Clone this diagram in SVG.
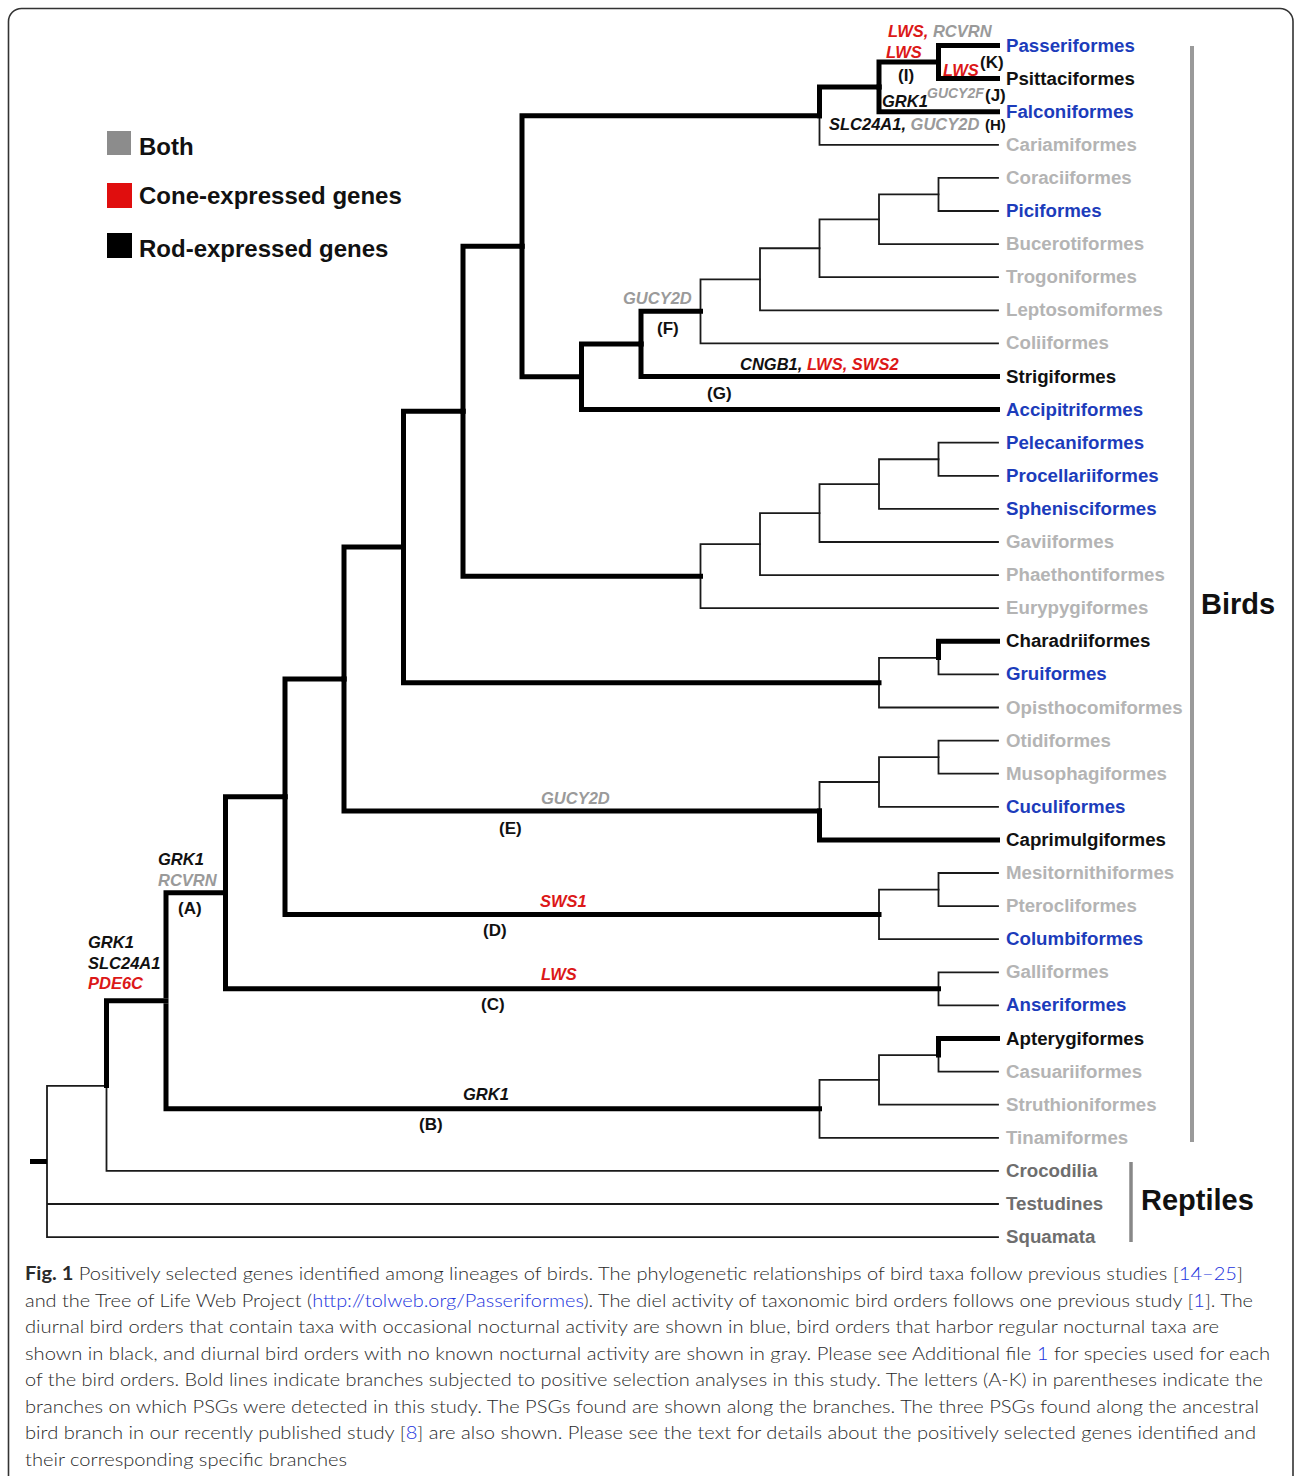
<svg xmlns="http://www.w3.org/2000/svg" width="1295" height="1476" viewBox="0 0 1295 1476">
<style>
.thin{fill:none;stroke:#1a1a1a;stroke-width:1.8;stroke-linecap:square;stroke-linejoin:miter}
.bold{fill:none;stroke:#000;stroke-width:5;stroke-linecap:butt;stroke-linejoin:miter}
.t{font-family:"Liberation Sans",Arial,sans-serif;font-weight:bold;font-size:18.7px}
.bl{fill:#1c3cbb}.bk{fill:#111}.gy{fill:#b4b4b4}.dg{fill:#6e6e6e}
.g{font-family:"Liberation Sans",Arial,sans-serif;font-weight:bold;font-style:italic;font-size:16.5px}
.red{fill:#dc1818}.gr{fill:#9a9a9a}.blk{fill:#111}
.lt{font-family:"Liberation Sans",Arial,sans-serif;font-weight:bold;font-size:17px;fill:#111}
.lg{font-family:"Liberation Sans",Arial,sans-serif;font-weight:bold;font-size:24px;fill:#111}
.big{font-family:"Liberation Sans",Arial,sans-serif;font-weight:bold;font-size:29px;fill:#111}
.cap{font-family:Lato,"Open Sans",sans-serif;font-size:18.5px;font-weight:300;fill:#2a2a2a}
.lnk{fill:#2233dd}
</style>
<rect x="8.5" y="8.5" width="1284.5" height="1520" rx="13" fill="#fff" stroke="#333" stroke-width="1.6"/>

<g id="legend">
<rect x="107" y="131" width="24" height="24" fill="#8c8c8c"/>
<text class="lg" x="139" y="155">Both</text>
<rect x="107" y="183" width="25" height="25" fill="#e00e0e"/>
<text class="lg" x="139" y="204">Cone-expressed genes</text>
<rect x="107" y="233" width="25" height="25" fill="#000"/>
<text class="lg" x="139" y="257">Rod-expressed genes</text>
</g>

<g id="connectors">
<g class="thin">
<path d="M47 1085.85V1237.1M47 1085.85H106.5M47 1204H998M47 1237.1H998"/>
<path d="M106.5 1085.85V1170.9H998"/>
<path d="M819.5 1108.85V1079.9H879M819.5 1108.85V1137.8H998"/>
<path d="M879 1079.9V1055.05H938.5M879 1079.9V1104.7H998"/>
<path d="M938.5 1055.05V1071.6H998"/>
<path d="M938.5 988.85V972.3H998M938.5 988.85V1005.4H998"/>
<path d="M879 914.4V889.55H938.5M879 914.4V939.2H998"/>
<path d="M938.5 889.55V873H998M938.5 889.55V906.1H998"/>
<path d="M819.5 810.95V782H879"/>
<path d="M879 782V757.15H938.5M879 782V806.8H998"/>
<path d="M938.5 757.15V740.6H998M938.5 757.15V773.7H998"/>
<path d="M879 682.7V657.85H938.5M879 682.7V707.5H998"/>
<path d="M938.5 657.85V674.4H998"/>
<path d="M700.5 576.15V544.1H760M700.5 576.15V608.2H998"/>
<path d="M760 544.1V513.05H819.5M760 544.1V575.1H998"/>
<path d="M819.5 513.05V484.1H879M819.5 513.05V542H998"/>
<path d="M879 484.1V459.25H938.5M879 484.1V508.9H998"/>
<path d="M938.5 459.25V442.7H998M938.5 459.25V475.8H998"/>
<path d="M819.5 115.85V144.8H998"/>
<path d="M700.5 311.35V279.3H760M700.5 311.35V343.4H998"/>
<path d="M760 279.3V248.25H819.5M760 279.3V310.3H998"/>
<path d="M819.5 248.25V219.3H879M819.5 248.25V277.2H998"/>
<path d="M879 219.3V194.45H938.5M879 219.3V244.1H998"/>
<path d="M938.5 194.45V177.9H998M938.5 194.45V211H998"/>
</g>
<g class="bold">
<path d="M30 1161.5H47"/>
<path d="M106.5 1088V1000.8H168.5"/>
<path d="M166 998.3V892.8H228"/>
<path d="M166 1003.3V1108.85H822"/>
<path d="M225.5 895.3V796.7H287.5"/>
<path d="M225.5 890.3V988.85H941"/>
<path d="M285 799.2V678.95H346.5"/>
<path d="M285 794.2V914.4H881.5"/>
<path d="M344 681.45V546.95H406"/>
<path d="M344 676.45V810.95H822"/>
<path d="M819.5 808.45V839.9H1000"/>
<path d="M403.5 549.45V411.2H465.5"/>
<path d="M403.5 544.45V682.7H881.5"/>
<path d="M938.5 660V641.3H1000"/>
<path d="M463 413.7V246.3H524.5"/>
<path d="M463 408.7V576.15H703"/>
<path d="M522 248.8V115.85H822"/>
<path d="M522 243.8V376.75H584"/>
<path d="M819.5 118.35V86.9H881.5"/>
<path d="M879 89.4V62.05H941"/>
<path d="M879 84.4V111.7H1000"/>
<path d="M938.5 64.55V45.5H1000"/>
<path d="M938.5 59.55V78.6H1000"/>
<path d="M581.5 379.25V343.9H643.5"/>
<path d="M581.5 374.25V409.6H1000"/>
<path d="M641 346.4V311.35H703"/>
<path d="M641 341.4V376.5H1000"/>
<path d="M938.5 1057.5V1038.5H1000"/>
</g>
</g>

<g id="leaves">
<g id="n-passeriformes"><text class="t bl" x="1006" y="51.5">Passeriformes</text></g>
<g id="n-psittaciformes"><text class="t bk" x="1006" y="84.6">Psittaciformes</text></g>
<g id="n-falconiformes"><text class="t bl" x="1006" y="117.7">Falconiformes</text></g>
<g id="n-cariamiformes"><text class="t gy" x="1006" y="150.8">Cariamiformes</text></g>
<g id="n-coraciiformes"><text class="t gy" x="1006" y="183.9">Coraciiformes</text></g>
<g id="n-piciformes"><text class="t bl" x="1006" y="217">Piciformes</text></g>
<g id="n-bucerotiformes"><text class="t gy" x="1006" y="250.1">Bucerotiformes</text></g>
<g id="n-trogoniformes"><text class="t gy" x="1006" y="283.2">Trogoniformes</text></g>
<g id="n-leptosomiformes"><text class="t gy" x="1006" y="316.3">Leptosomiformes</text></g>
<g id="n-coliiformes"><text class="t gy" x="1006" y="349.4">Coliiformes</text></g>
<g id="n-strigiformes"><text class="t bk" x="1006" y="382.5">Strigiformes</text></g>
<g id="n-accipitriformes"><text class="t bl" x="1006" y="415.6">Accipitriformes</text></g>
<g id="n-pelecaniformes"><text class="t bl" x="1006" y="448.7">Pelecaniformes</text></g>
<g id="n-procellariiformes"><text class="t bl" x="1006" y="481.8">Procellariiformes</text></g>
<g id="n-sphenisciformes"><text class="t bl" x="1006" y="514.9">Sphenisciformes</text></g>
<g id="n-gaviiformes"><text class="t gy" x="1006" y="548">Gaviiformes</text></g>
<g id="n-phaethontiformes"><text class="t gy" x="1006" y="581.1">Phaethontiformes</text></g>
<g id="n-eurypygiformes"><text class="t gy" x="1006" y="614.2">Eurypygiformes</text></g>
<g id="n-charadriiformes"><text class="t bk" x="1006" y="647.3">Charadriiformes</text></g>
<g id="n-gruiformes"><text class="t bl" x="1006" y="680.4">Gruiformes</text></g>
<g id="n-opisthocomiformes"><text class="t gy" x="1006" y="713.5">Opisthocomiformes</text></g>
<g id="n-otidiformes"><text class="t gy" x="1006" y="746.6">Otidiformes</text></g>
<g id="n-musophagiformes"><text class="t gy" x="1006" y="779.7">Musophagiformes</text></g>
<g id="n-cuculiformes"><text class="t bl" x="1006" y="812.8">Cuculiformes</text></g>
<g id="n-caprimulgiformes"><text class="t bk" x="1006" y="845.9">Caprimulgiformes</text></g>
<g id="n-mesitornithiformes"><text class="t gy" x="1006" y="879">Mesitornithiformes</text></g>
<g id="n-pterocliformes"><text class="t gy" x="1006" y="912.1">Pterocliformes</text></g>
<g id="n-columbiformes"><text class="t bl" x="1006" y="945.2">Columbiformes</text></g>
<g id="n-galliformes"><text class="t gy" x="1006" y="978.3">Galliformes</text></g>
<g id="n-anseriformes"><text class="t bl" x="1006" y="1011.4">Anseriformes</text></g>
<g id="n-apterygiformes"><text class="t bk" x="1006" y="1044.5">Apterygiformes</text></g>
<g id="n-casuariiformes"><text class="t gy" x="1006" y="1077.6">Casuariiformes</text></g>
<g id="n-struthioniformes"><text class="t gy" x="1006" y="1110.7">Struthioniformes</text></g>
<g id="n-tinamiformes"><text class="t gy" x="1006" y="1143.8">Tinamiformes</text></g>
<g id="n-crocodilia"><text class="t dg" x="1006" y="1176.9">Crocodilia</text></g>
<g id="n-testudines"><text class="t dg" x="1006" y="1210">Testudines</text></g>
<g id="n-squamata"><text class="t dg" x="1006" y="1243.1">Squamata</text></g>
</g>

<g id="groups">
<line x1="1192" y1="46" x2="1192" y2="1142" stroke="#9a9a9a" stroke-width="4"/>
<text class="big" x="1201" y="614">Birds</text>
<line x1="1131" y1="1162" x2="1131" y2="1242" stroke="#888" stroke-width="3.5"/>
<text class="big" x="1141" y="1210">Reptiles</text>
</g>

<g id="gene-labels">
<text class="g" x="888" y="37"><tspan class="red">LWS,</tspan><tspan class="gr"> RCVRN</tspan></text>
<text class="g red" x="886" y="58">LWS</text>
<text class="g red" x="943" y="76">LWS</text>
<text class="lt" x="980" y="68">(K)</text>
<text class="lt" x="898" y="81">(I)</text>
<text class="g blk" x="882" y="107">GRK1</text>
<text class="g gr" x="927" y="98" style="font-size:14px">GUCY2F</text>
<text class="lt" x="985" y="101">(J)</text>
<text class="g" x="829" y="130"><tspan class="blk">SLC24A1,</tspan><tspan class="gr"> GUCY2D</tspan></text>
<text class="lt" x="985" y="130" style="font-size:15px">(H)</text>
<text class="g gr" x="623" y="304">GUCY2D</text>
<text class="lt" x="657" y="334">(F)</text>
<text class="g" x="740" y="370"><tspan class="blk">CNGB1,</tspan><tspan class="red"> LWS, SWS2</tspan></text>
<text class="lt" x="707" y="399">(G)</text>
<text class="g gr" x="541" y="804">GUCY2D</text>
<text class="lt" x="499" y="834">(E)</text>
<text class="g red" x="540" y="907">SWS1</text>
<text class="lt" x="483" y="936">(D)</text>
<text class="g red" x="541" y="980">LWS</text>
<text class="lt" x="481" y="1010">(C)</text>
<text class="g blk" x="463" y="1100">GRK1</text>
<text class="lt" x="419" y="1130">(B)</text>
<text class="g blk" x="158" y="865">GRK1</text>
<text class="g gr" x="158" y="886">RCVRN</text>
<text class="lt" x="178" y="914">(A)</text>
<text class="g blk" x="88" y="948">GRK1</text>
<text class="g blk" x="88" y="969">SLC24A1</text>
<text class="g red" x="88" y="989">PDE6C</text>
</g>

<g id="caption">
<text class="cap" x="25" y="1280" textLength="1218" lengthAdjust="spacingAndGlyphs"><tspan font-weight="bold">Fig. 1</tspan> Positively selected genes identified among lineages of birds. The phylogenetic relationships of bird taxa follow previous studies [<tspan class="lnk">14–25</tspan>]</text>
<text class="cap" x="25" y="1306.5" textLength="1228" lengthAdjust="spacingAndGlyphs">and the Tree of Life Web Project (<tspan class="lnk">http://tolweb.org/Passeriformes</tspan>). The diel activity of taxonomic bird orders follows one previous study [<tspan class="lnk">1</tspan>]. The</text>
<text class="cap" x="25" y="1333" textLength="1194" lengthAdjust="spacingAndGlyphs">diurnal bird orders that contain taxa with occasional nocturnal activity are shown in blue, bird orders that harbor regular nocturnal taxa are</text>
<text class="cap" x="25" y="1359.5" textLength="1245" lengthAdjust="spacingAndGlyphs">shown in black, and diurnal bird orders with no known nocturnal activity are shown in gray. Please see Additional file <tspan class="lnk">1</tspan> for species used for each</text>
<text class="cap" x="25" y="1386" textLength="1238" lengthAdjust="spacingAndGlyphs">of the bird orders. Bold lines indicate branches subjected to positive selection analyses in this study. The letters (A-K) in parentheses indicate the</text>
<text class="cap" x="25" y="1412.5" textLength="1234" lengthAdjust="spacingAndGlyphs">branches on which PSGs were detected in this study. The PSGs found are shown along the branches. The three PSGs found along the ancestral</text>
<text class="cap" x="25" y="1439" textLength="1231" lengthAdjust="spacingAndGlyphs">bird branch in our recently published study [<tspan class="lnk">8</tspan>] are also shown. Please see the text for details about the positively selected genes identified and</text>
<text class="cap" x="25" y="1465.5" textLength="322" lengthAdjust="spacingAndGlyphs">their corresponding specific branches</text>
</g>
</svg>
